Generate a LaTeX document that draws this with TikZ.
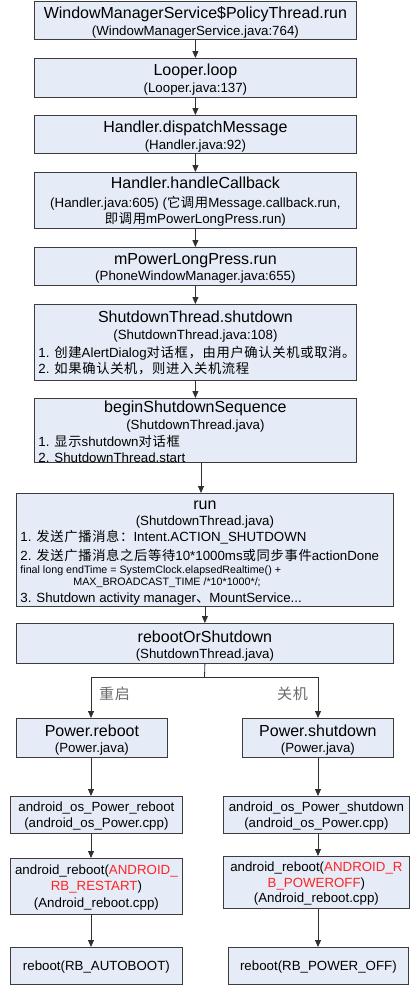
\documentclass[tikz,border=0pt]{standalone}
\usepackage{fontspec}
\setmainfont{Liberation Sans}
\newfontfamily\cjk[LetterSpace=5]{Noto Sans CJK SC}
\usetikzlibrary{arrows.meta}
\definecolor{boxfill}{HTML}{E6ECF7}
\definecolor{boxline}{HTML}{3C3C3C}
\definecolor{arrcol}{HTML}{303030}
\definecolor{redtxt}{HTML}{FF2424}
\definecolor{lblcol}{HTML}{6A6A6A}
\newcommand\T[1]{{\fontsize{16}{17}\selectfont #1}}
\newcommand\C[1]{{\cjk #1}}
\newcommand\R[1]{\textcolor{redtxt}{#1}}
\newcommand\Sm[1]{{\fontsize{10.7}{12}\selectfont #1}}
% height, width, alignment, first baseline offset, content
\newcommand\bt[5]{\parbox[c][#1pt][t]{#2pt}{\lineskiplimit=-100pt\lineskip=0pt\baselineskip=17pt#3\rule{0pt}{#4pt}#5}}
\newcommand\ctr[1]{\makebox[\linewidth]{#1}}
\newcommand\lft[1]{\makebox[\linewidth][l]{#1}}
\begin{document}
\begin{tikzpicture}[x=1pt,y=-1pt,
  box/.style={draw=boxline, fill=boxfill, line width=0.8pt, inner sep=0pt, anchor=north west,
    font=\fontsize{13.3}{17}\selectfont},
  link/.style={draw=arrcol, line width=0.8pt, -{Triangle[length=7pt,width=6pt]}},
  plainlink/.style={draw=arrcol, line width=0.8pt},
  lbl/.style={text=lblcol, inner sep=0pt, anchor=west, font=\fontsize{15}{17}\selectfont\cjk}]
\useasboundingbox (0,0) rectangle (413,985);

\node[box, minimum width=322, minimum height=38] (b1) at (34,1)
  {\bt{38}{314}{\centering}{16.7}{\T{WindowManagerService\$PolicyThread.run}\\(WindowManagerService.java:764)}};
\node[box, minimum width=322, minimum height=39] (b2) at (34,58)
  {\bt{39}{314}{\centering}{16.7}{\T{Looper.loop}\\(Looper.java:137)}};
\node[box, minimum width=322, minimum height=38] (b3) at (34,115)
  {\bt{38}{314}{\centering}{16.7}{\T{Handler.dispatchMessage}\\(Handler.java:92)}};
\node[box, minimum width=322, minimum height=56] (b4) at (34,172)
  {\bt{56}{314}{\centering}{15.7}{\T{Handler.handleCallback}\\[2pt](Handler.java:605) (\C{它调用}Message.callback.run,\\[-1pt]\C{即调用}mPowerLongPress.run)}};
\node[box, minimum width=322, minimum height=38] (b5) at (34,247)
  {\bt{38}{314}{\centering}{16.7}{\T{mPowerLongPress.run}\\[-1pt](PhoneWindowManager.java:655)}};
\node[box, minimum width=322, minimum height=76] (b6) at (34,304)
  {\bt{76}{314}{\raggedright}{17.7}{\ctr{\T{ShutdownThread.shutdown}}\\\ctr{(ShutdownThread.java:108)}\\[1pt]\lft{1. \C{创建}AlertDialog\C{对话框，由用户确认关机或取消。}}\\[-1pt]\lft{2. \C{如果确认关机，则进入关机流程}}}};
\node[box, minimum width=322, minimum height=64] (b7) at (34,398)
  {\bt{64}{314}{\raggedright}{13.7}{\ctr{\T{beginShutdownSequence}}\\\ctr{(ShutdownThread.java)}\\\lft{1. \C{显示}shutdown\C{对话框}}\\[-1pt]\lft{2. ShutdownThread.start}}};
\node[box, minimum width=377, minimum height=113] (b8) at (16,493)
  {\bt{113}{369}{\raggedright}{15.7}{\ctr{\T{run}}\\[-1pt]\ctr{(ShutdownThread.java)}\\[-1pt]\lft{1. \C{发送广播消息：}Intent.ACTION\_SHUTDOWN}\\[2pt]\lft{2. \C{发送广播消息之后等待}10*1000ms\C{或同步事件}actionDone}\\[-4pt]\lft{\Sm{final long endTime = SystemClock.elapsedRealtime() +}}\\[-5pt]\lft{\hspace*{53pt}\Sm{MAX\_BROADCAST\_TIME /*10*1000*/;}}\\\lft{3. Shutdown activity manager\C{、}MountService...}}};
\node[box, minimum width=377, minimum height=40] (b9) at (16,623)
  {\bt{40}{369}{\centering}{18.7}{\T{rebootOrShutdown}\\[-1pt](ShutdownThread.java)}};

\node[box, minimum width=151, minimum height=39] (pr) at (16,718)
  {\bt{39}{147}{\centering}{17.7}{\T{Power.reboot}\\[-1pt](Power.java)}};
\node[box, minimum width=151, minimum height=39] (ps) at (242,718)
  {\bt{39}{147}{\centering}{17.7}{\T{Power.shutdown}\\[-1pt](Power.java)}};
\node[box, minimum width=172, minimum height=37] (aopr) at (10,796)
  {\bt{37}{168}{\centering}{14.7}{android\_os\_Power\_reboot\\[-1pt](android\_os\_Power.cpp)}};
\node[box, minimum width=186, minimum height=37] (aops) at (223,796)
  {\bt{37}{182}{\centering}{14.7}{android\_os\_Power\_shutdown\\[-1pt](android\_os\_Power.cpp)}};
\node[box, minimum width=172, minimum height=56] (arl) at (10,858)
  {\bt{56}{168}{\centering}{15.7}{android\_reboot(\R{ANDROID\_}\\[-1pt]\R{RB\_RESTART})\\(Android\_reboot.cpp)}};
\node[box, minimum width=186, minimum height=52] (arr) at (223,856)
  {\bt{52}{182}{\centering}{14.7}{android\_reboot(\R{ANDROID\_R}\\[-1pt]\R{B\_POWEROFF})\\[-2pt](Android\_reboot.cpp)}};
\node[box, minimum width=172, minimum height=37] (rl) at (10,947)
  {\bt{37}{168}{\centering}{22.7}{reboot(RB\_AUTOBOOT)}};
\node[box, minimum width=180, minimum height=37] (rr) at (228,947)
  {\bt{37}{176}{\centering}{22.7}{reboot(RB\_POWER\_OFF)}};

\coordinate (c78) at (201,0);
\coordinate (split) at (204.5,677);
\coordinate (colL) at (91,0);
\coordinate (colR) at (318,0);

\draw[link] (b1) -- (b2);
\draw[link] (b2) -- (b3);
\draw[link] (b3) -- (b4);
\draw[link] (b4) -- (b5);
\draw[link] (b5) -- (b6);
\draw[link] (b6) -- (b7);
\draw[link] (b7.south -| c78) -- (b8.north -| c78);
\draw[link] (b8) -- (b9);
\draw[plainlink] (b9.south) -- (split);
\draw[link] (split) -| (pr.north -| colL);
\draw[link] (split) -| (ps.north -| colR);
\draw[link] (pr.south -| colL) -- (aopr.north -| colL);
\draw[link] (aopr.south -| colL) -- (arl.north -| colL);
\draw[link] (arl.south -| colL) -- (rl.north -| colL);
\draw[link] (ps.south -| colR) -- (aops.north -| colR);
\draw[link] (aops.south -| colR) -- (arr.north -| colR);
\draw[link] (arr.south -| colR) -- (rr.north -| colR);

\node[lbl] (lr) at (99,694) {重启};
\node[lbl] (ls) at (277,694) {关机};
\end{tikzpicture}
\end{document}
